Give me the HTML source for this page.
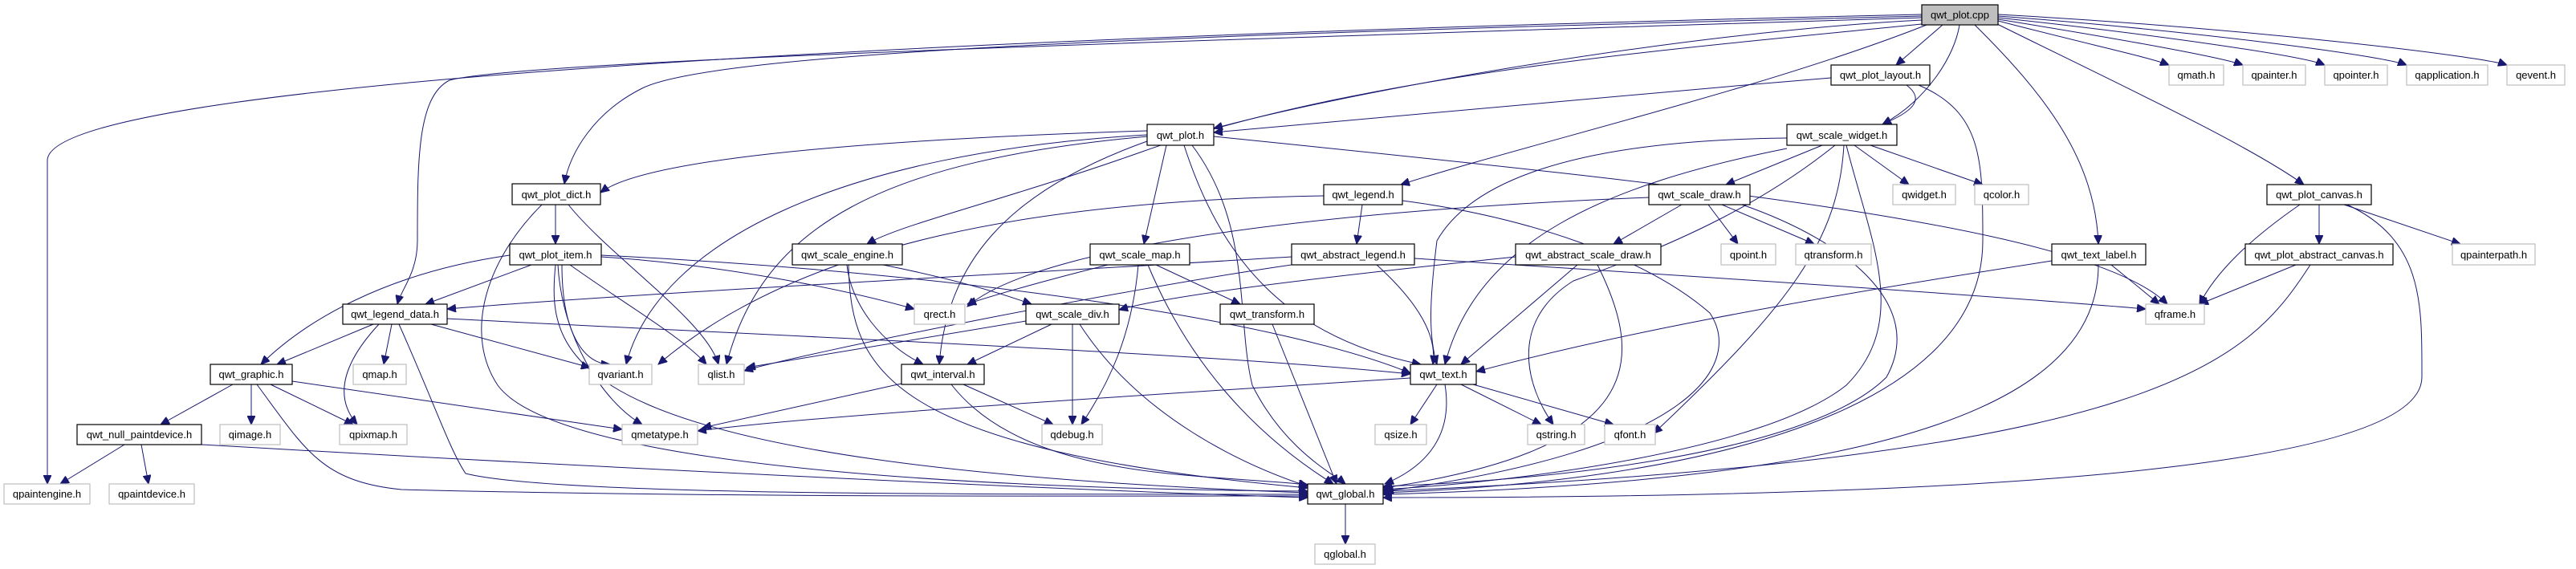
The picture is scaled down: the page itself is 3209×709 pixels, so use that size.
<!DOCTYPE html>
<html><head><meta charset="utf-8"><style>
html,body{margin:0;padding:0;background:#fff}
svg{display:block}
text{font-family:"Liberation Sans",Arial,sans-serif;font-size:13px;fill:#000}
.n{fill:#fff;stroke:#000;stroke-width:1.2}
.g{fill:#fff;stroke:#bfbfbf;stroke-width:1.2}
.r{fill:#bfbfbf;stroke:#000;stroke-width:1.2}
path{fill:none;stroke:#191970;stroke-width:1}
</style></head><body>
<svg width="3209" height="709" viewBox="0 0 3209 709" xmlns="http://www.w3.org/2000/svg">
<defs><marker id="a" markerUnits="userSpaceOnUse" markerWidth="12" markerHeight="10" refX="11" refY="5" orient="auto"><path d="M0,0 L11,5 L0,10 Z" style="fill:#191970;stroke:#191970"/></marker></defs>
<g marker-end="url(#a)">
<path d="M2394,18 C1200,45 59,100 59,200 L59,603"/>
<path d="M2394,22 C1500,50 650,75 560,100 C520,120 520,200 520,300 C520,340 500,360 495,379"/>
<path d="M2394,20 C1600,40 900,60 800,110 C740,140 710,190 703,229"/>
<path d="M2394,25 C2100,40 1700,110 1512,160"/>
<path d="M2420,31 L2362,81"/>
<path d="M2441,31 C2435,70 2400,125 2345,155"/>
<path d="M2400,31 C2200,110 1900,180 1745,230"/>
<path d="M2394,30 C2100,60 1700,90 1420,190 C1250,250 1120,280 1080,304"/>
<path d="M2460,31 C2550,120 2610,200 2614,304"/>
<path d="M2488,30 C2650,110 2800,180 2870,230"/>
<path d="M2489,26 C2600,55 2680,72 2702,81"/>
<path d="M2489,24 C2650,50 2770,72 2794,81"/>
<path d="M2489,22 C2700,45 2870,70 2896,81"/>
<path d="M2489,20 C2750,40 2970,70 2998,81"/>
<path d="M2489,18 C2800,35 3090,70 3123,81"/>
<path d="M2281,97 C2000,120 1700,150 1512,165"/>
<path d="M2375,106 C2400,125 2380,140 2345,155"/>
<path d="M2390,106 C2470,140 2470,200 2470,300 C2470,520 2100,600 1723,614"/>
<path d="M1429,163 C1050,175 800,200 748,240"/>
<path d="M1453,181 L1425,304"/>
<path d="M1475,181 C1520,320 1600,420 1770,454"/>
<path d="M1485,181 C1560,280 1540,400 1560,480 C1600,560 1660,590 1676,603"/>
<path d="M1429,176 C1250,240 1180,330 1170,454"/>
<path d="M1512,170 C2100,230 2600,280 2700,379"/>
<path d="M1429,170 C1100,200 950,280 905,454"/>
<path d="M1429,168 C1050,190 820,300 780,454"/>
<path d="M692,255 L692,304"/>
<path d="M708,255 C760,320 880,400 895,454"/>
<path d="M675,255 C600,330 580,420 620,480 C700,590 1300,610 1629,612"/>
<path d="M662,330 L530,379"/>
<path d="M635,318 C480,340 380,400 325,454"/>
<path d="M692,330 C680,450 700,580 1629,614"/>
<path d="M749,318 C1200,340 1600,400 1757,465"/>
<path d="M749,320 C900,330 1050,360 1139,385"/>
<path d="M710,330 C780,380 850,420 880,454"/>
<path d="M695,330 C700,420 750,500 800,529"/>
<path d="M700,330 C700,420 730,454 760,454"/>
<path d="M465,404 L345,454"/>
<path d="M488,404 L478,454"/>
<path d="M472,404 C420,460 420,500 445,529"/>
<path d="M537,404 L735,458"/>
<path d="M557,397 C1000,420 1500,440 1757,466"/>
<path d="M497,404 C540,500 560,560 580,590 C700,620 1300,615 1629,616"/>
<path d="M290,479 L200,529"/>
<path d="M313,479 L313,529"/>
<path d="M337,479 L440,529"/>
<path d="M364,475 L775,535"/>
<path d="M320,479 C380,560 400,600 500,610 C900,620 1300,618 1629,618"/>
<path d="M155,554 L75,603"/>
<path d="M176,554 L185,603"/>
<path d="M251,554 C700,580 1300,610 1629,620"/>
<path d="M1100,330 C1200,350 1260,370 1285,379"/>
<path d="M1055,330 C1060,380 1100,430 1150,454"/>
<path d="M1057,330 C1060,460 1100,560 1629,608"/>
<path d="M1440,330 L1545,379"/>
<path d="M1380,330 C1300,350 1230,370 1205,379"/>
<path d="M1418,330 C1410,420 1380,480 1347,529"/>
<path d="M1430,330 C1480,450 1560,540 1661,603"/>
<path d="M1310,404 L1205,454"/>
<path d="M1278,400 L930,458"/>
<path d="M1336,404 L1336,529"/>
<path d="M1345,404 C1420,520 1550,580 1629,606"/>
<path d="M1123,478 L875,533"/>
<path d="M1200,479 L1312,529"/>
<path d="M1185,479 C1280,600 1500,590 1629,604"/>
<path d="M1585,404 L1665,603"/>
<path d="M1790,479 L1757,529"/>
<path d="M1820,479 L1920,529"/>
<path d="M1835,479 L2010,529"/>
<path d="M1757,471 C1300,500 1000,520 869,537"/>
<path d="M1800,479 C1810,540 1780,580 1725,603"/>
<path d="M1676,628 L1676,678"/>
<path d="M1697,255 L1690,304"/>
<path d="M1649,244 C1300,250 1000,300 820,454"/>
<path d="M1747,250 C1900,270 2050,320 2130,390 C2170,450 2120,560 1725,612"/>
<path d="M1609,320 C1200,345 800,365 557,385"/>
<path d="M1762,322 C2200,350 2500,370 2673,385"/>
<path d="M1609,330 C1400,360 1000,440 927,462"/>
<path d="M1715,330 C1770,380 1790,420 1785,454"/>
<path d="M2270,181 L2150,230"/>
<path d="M2310,181 L2378,230"/>
<path d="M2330,181 L2470,230"/>
<path d="M2226,185 C2000,230 1840,300 1800,454"/>
<path d="M2226,172 C1950,175 1830,230 1790,300 C1780,380 1780,420 1790,454"/>
<path d="M2297,181 C2290,300 2230,380 2060,540"/>
<path d="M2300,181 C2330,300 2380,400 2300,480 C2200,560 1900,600 1723,610"/>
<path d="M2286,181 C2200,250 2100,300 1960,350 C1880,400 1900,480 1935,529"/>
<path d="M2095,255 L2010,304"/>
<path d="M2128,255 L2165,304"/>
<path d="M2145,255 L2260,304"/>
<path d="M2054,246 C1700,260 1300,300 1205,382"/>
<path d="M2170,255 C2300,300 2400,380 2350,470 C2250,570 1900,600 1723,606"/>
<path d="M1888,320 C1600,350 1450,370 1394,386"/>
<path d="M1965,330 L1820,454"/>
<path d="M1990,330 C2050,450 2050,560 1723,608"/>
<path d="M2630,330 L2690,379"/>
<path d="M2556,325 C2200,380 2000,420 1839,463"/>
<path d="M2614,330 C2614,520 2300,600 1723,616"/>
<path d="M2889,255 L2889,304"/>
<path d="M2920,255 L3065,304"/>
<path d="M2865,255 C2800,300 2760,340 2740,379"/>
<path d="M2924,255 C3020,300 3017,380 3017,470 C3017,600 2300,620 1723,620"/>
<path d="M2860,330 L2740,379"/>
<path d="M2878,330 C2800,450 2700,570 1723,612"/>
</g>
<rect class="r" x="2394" y="6" width="95" height="25"/><text x="2441.5" y="23" text-anchor="middle">qwt_plot.cpp</text>
<rect class="n" x="2281" y="81" width="123" height="25"/><text x="2342.5" y="98" text-anchor="middle">qwt_plot_layout.h</text>
<rect class="g" x="2702" y="81" width="68" height="25"/><text x="2736" y="98" text-anchor="middle">qmath.h</text>
<rect class="g" x="2794" y="81" width="78" height="25"/><text x="2833" y="98" text-anchor="middle">qpainter.h</text>
<rect class="g" x="2896" y="81" width="78" height="25"/><text x="2935" y="98" text-anchor="middle">qpointer.h</text>
<rect class="g" x="2998" y="81" width="101" height="25"/><text x="3048.5" y="98" text-anchor="middle">qapplication.h</text>
<rect class="g" x="3123" y="81" width="72" height="25"/><text x="3159" y="98" text-anchor="middle">qevent.h</text>
<rect class="n" x="1429" y="155" width="83" height="26"/><text x="1470.5" y="173" text-anchor="middle">qwt_plot.h</text>
<rect class="n" x="2226" y="155" width="137" height="26"/><text x="2294.5" y="173" text-anchor="middle">qwt_scale_widget.h</text>
<rect class="n" x="638" y="229" width="110" height="26"/><text x="693" y="247" text-anchor="middle">qwt_plot_dict.h</text>
<rect class="n" x="1649" y="230" width="98" height="25"/><text x="1698" y="247" text-anchor="middle">qwt_legend.h</text>
<rect class="n" x="2054" y="230" width="126" height="25"/><text x="2117" y="247" text-anchor="middle">qwt_scale_draw.h</text>
<rect class="g" x="2358" y="230" width="78" height="25"/><text x="2397" y="247" text-anchor="middle">qwidget.h</text>
<rect class="g" x="2460" y="230" width="67" height="25"/><text x="2493.5" y="247" text-anchor="middle">qcolor.h</text>
<rect class="n" x="2824" y="230" width="130" height="25"/><text x="2889" y="247" text-anchor="middle">qwt_plot_canvas.h</text>
<rect class="n" x="635" y="304" width="114" height="26"/><text x="692" y="322" text-anchor="middle">qwt_plot_item.h</text>
<rect class="n" x="987" y="304" width="137" height="26"/><text x="1055.5" y="322" text-anchor="middle">qwt_scale_engine.h</text>
<rect class="n" x="1358" y="304" width="124" height="26"/><text x="1420" y="322" text-anchor="middle">qwt_scale_map.h</text>
<rect class="n" x="1609" y="304" width="153" height="26"/><text x="1685.5" y="322" text-anchor="middle">qwt_abstract_legend.h</text>
<rect class="n" x="1888" y="304" width="181" height="26"/><text x="1978.5" y="322" text-anchor="middle">qwt_abstract_scale_draw.h</text>
<rect class="g" x="2144" y="304" width="68" height="26"/><text x="2178" y="322" text-anchor="middle">qpoint.h</text>
<rect class="g" x="2237" y="304" width="94" height="26"/><text x="2284" y="322" text-anchor="middle">qtransform.h</text>
<rect class="n" x="2556" y="304" width="117" height="26"/><text x="2614.5" y="322" text-anchor="middle">qwt_text_label.h</text>
<rect class="n" x="2797" y="304" width="184" height="26"/><text x="2889" y="322" text-anchor="middle">qwt_plot_abstract_canvas.h</text>
<rect class="g" x="3055" y="304" width="103" height="26"/><text x="3106.5" y="322" text-anchor="middle">qpainterpath.h</text>
<rect class="n" x="427" y="379" width="130" height="25"/><text x="492" y="396" text-anchor="middle">qwt_legend_data.h</text>
<rect class="g" x="1139" y="379" width="63" height="25"/><text x="1170.5" y="396" text-anchor="middle">qrect.h</text>
<rect class="n" x="1278" y="379" width="116" height="25"/><text x="1336" y="396" text-anchor="middle">qwt_scale_div.h</text>
<rect class="n" x="1520" y="379" width="117" height="25"/><text x="1578.5" y="396" text-anchor="middle">qwt_transform.h</text>
<rect class="g" x="2673" y="379" width="73" height="25"/><text x="2709.5" y="396" text-anchor="middle">qframe.h</text>
<rect class="n" x="262" y="454" width="102" height="25"/><text x="313" y="471" text-anchor="middle">qwt_graphic.h</text>
<rect class="g" x="440" y="454" width="66" height="25"/><text x="473" y="471" text-anchor="middle">qmap.h</text>
<rect class="g" x="734" y="454" width="78" height="25"/><text x="773" y="471" text-anchor="middle">qvariant.h</text>
<rect class="g" x="870" y="454" width="57" height="25"/><text x="898.5" y="471" text-anchor="middle">qlist.h</text>
<rect class="n" x="1123" y="454" width="103" height="25"/><text x="1174.5" y="471" text-anchor="middle">qwt_interval.h</text>
<rect class="n" x="1757" y="454" width="82" height="25"/><text x="1798" y="471" text-anchor="middle">qwt_text.h</text>
<rect class="n" x="96" y="529" width="155" height="25"/><text x="173.5" y="546" text-anchor="middle">qwt_null_paintdevice.h</text>
<rect class="g" x="274" y="529" width="75" height="25"/><text x="311.5" y="546" text-anchor="middle">qimage.h</text>
<rect class="g" x="423" y="529" width="84" height="25"/><text x="465" y="546" text-anchor="middle">qpixmap.h</text>
<rect class="g" x="775" y="529" width="94" height="25"/><text x="822" y="546" text-anchor="middle">qmetatype.h</text>
<rect class="g" x="1298" y="529" width="75" height="25"/><text x="1335.5" y="546" text-anchor="middle">qdebug.h</text>
<rect class="g" x="1713" y="529" width="64" height="25"/><text x="1745" y="546" text-anchor="middle">qsize.h</text>
<rect class="g" x="1903" y="529" width="71" height="25"/><text x="1938.5" y="546" text-anchor="middle">qstring.h</text>
<rect class="g" x="1999" y="529" width="63" height="25"/><text x="2030.5" y="546" text-anchor="middle">qfont.h</text>
<rect class="g" x="5" y="603" width="107" height="25"/><text x="58.5" y="620" text-anchor="middle">qpaintengine.h</text>
<rect class="g" x="136" y="603" width="106" height="25"/><text x="189" y="620" text-anchor="middle">qpaintdevice.h</text>
<rect class="n" x="1629" y="603" width="94" height="25"/><text x="1676" y="620" text-anchor="middle">qwt_global.h</text>
<rect class="g" x="1638" y="678" width="75" height="25"/><text x="1675.5" y="695" text-anchor="middle">qglobal.h</text>
</svg>
</body></html>
